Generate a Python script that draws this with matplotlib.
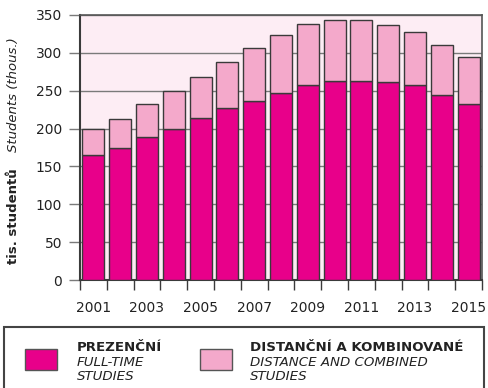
import numpy as np
import matplotlib.pyplot as plt
from matplotlib.patches import Rectangle

years = np.arange(2001, 2016)
full_time = [165, 175, 189, 200, 214, 227, 237, 247, 257, 263, 263, 261, 257, 245, 232]
total = [200, 213, 233, 249, 268, 288, 306, 323, 338, 343, 343, 337, 328, 311, 295]
distance = [t - f for t, f in zip(total, full_time)]

c_full = '#e8008a'
c_dist = '#f4a9cb'
c_bg = '#fdedf4'
c_edge = '#3a3a3a'
c_grid = '#7a7a7a'

fig = plt.figure(figsize=(4.88, 3.88), dpi=100)
ax = fig.add_axes([80 / 488, 1 - 280 / 388, 402 / 488, 265 / 388])
ax.set_facecolor(c_bg)

ax.bar(years, full_time, width=0.82, color=c_full, edgecolor=c_edge, linewidth=1.0, zorder=3)
ax.bar(years, distance, bottom=full_time, width=0.82, color=c_dist, edgecolor=c_edge,
       linewidth=1.0, zorder=3)

ax.set_xlim(2000.5, 2015.5)
ax.set_ylim(0, 350)
ax.set_yticks(np.arange(0, 351, 50))
ax.yaxis.grid(True, color=c_grid, linewidth=1.0, zorder=0)
ax.tick_params(axis='y', length=8, width=1.0, color=c_grid, pad=5, labelsize=10,
               labelcolor='#222222')

# ticks between bars, year labels under odd years
ax.set_xticks(np.arange(2000.5, 2016, 1))
ax.set_xticklabels([])
ax.tick_params(axis='x', which='major', length=7, width=1.0, color=c_edge)
ax.set_xticks(years[::2], minor=True)
ax.set_xticklabels([str(y) for y in years[::2]], minor=True)
ax.tick_params(axis='x', which='minor', length=0, pad=15, labelsize=10, labelcolor='#222222')

for side in ['left', 'bottom']:
    ax.spines[side].set_color(c_edge)
    ax.spines[side].set_linewidth(1.5)
for side in ['top', 'right']:
    ax.spines[side].set_color('#555555')
    ax.spines[side].set_linewidth(1.2)

fig.text(14 / 488, 1 - 95 / 388, 'Students (thous.)', rotation=90, style='italic',
         fontsize=9.5, ha='center', va='center', color='#222222')
fig.text(14 / 488, 1 - 216 / 388, 'tis. studentů', rotation=90, fontweight='bold',
         fontsize=9.5, ha='center', va='center', color='#222222')

# legend box
fig.patches.append(Rectangle((4 / 488, -0.01), 480 / 488, 1 - 327 / 388 + 0.01,
                             transform=fig.transFigure, facecolor='white',
                             edgecolor='#444444', linewidth=1.5))
fig.patches.append(Rectangle((25 / 488, 1 - 370 / 388), 32 / 488, 21 / 388,
                             transform=fig.transFigure, facecolor=c_full,
                             edgecolor='#555555', linewidth=1.0))
fig.patches.append(Rectangle((200 / 488, 1 - 370 / 388), 32 / 488, 21 / 388,
                             transform=fig.transFigure, facecolor=c_dist,
                             edgecolor='#555555', linewidth=1.0))

fs = 9.6
rows = [(351, 'bold', 'normal'), (366, 'normal', 'italic'), (380, 'normal', 'italic')]
left_lines = ['PREZENČNÍ', 'FULL-TIME', 'STUDIES']
right_lines = ['DISTANČNÍ A KOMBINOVANÉ', 'DISTANCE AND COMBINED', 'STUDIES']
for (y, w, s), t1, t2 in zip(rows, left_lines, right_lines):
    fig.text(77 / 488, 1 - y / 388, t1, fontweight=w, style=s, fontsize=fs,
             va='baseline', color='#222222')
    fig.text(250 / 488, 1 - y / 388, t2, fontweight=w, style=s, fontsize=fs,
             va='baseline', color='#222222')

fig.savefig('out.png', dpi=100)
